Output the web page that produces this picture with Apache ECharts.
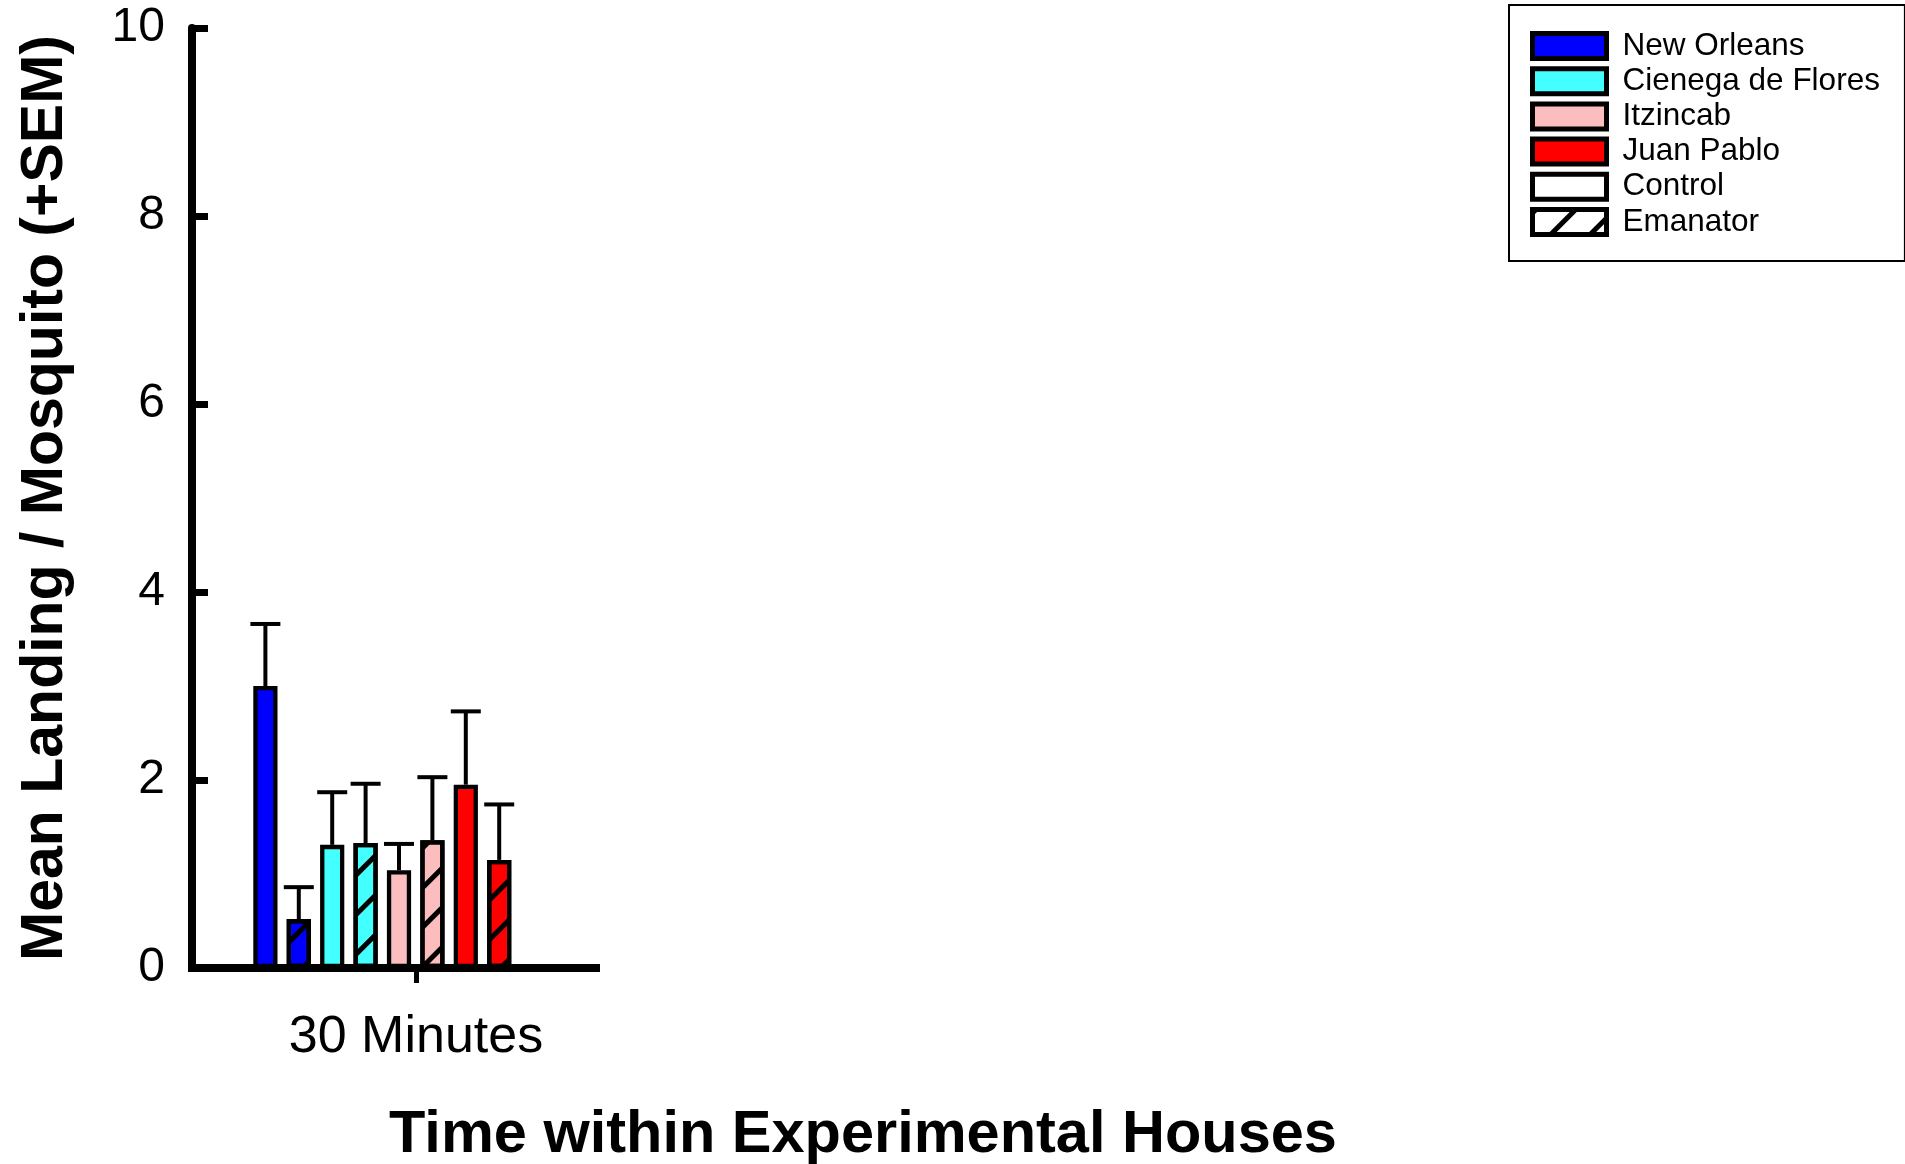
<!DOCTYPE html>
<html>
<head>
<meta charset="utf-8">
<script src="https://cdn.jsdelivr.net/npm/echarts@6/dist/echarts.min.js"></script>
<style>
  html, body { margin: 0; padding: 0; background: #ffffff; }
  #chart { width: 1905px; height: 1164px; }
</style>
</head>
<body>
<div id="chart"></div>
<script>
// Landing counts per mosquito strain, 30 minutes inside the experimental houses
const timeCategories = ['30 Minutes'];
const sites = ['New Orleans', 'Cienega de Flores', 'Itzincab', 'Juan Pablo'];
const treatments = ['Control', 'Emanator'];
const siteColors = ['#0000ff', '#44ffff', '#fbbdbd', '#ff0000'];
const meanControl = [3.00, 1.31, 1.04, 1.95];
const meanEmanator = [0.52, 1.33, 1.36, 1.15];
const semControl = [0.66, 0.56, 0.28, 0.78];
const semEmanator = [0.34, 0.63, 0.67, 0.59];
const yTicks = [0, 2, 4, 6, 8, 10];

const FONT = '"Liberation Sans", Arial, sans-serif';
const hatch = {
  symbol: 'rect',
  symbolSize: 1,
  color: '#000000',
  dashArrayX: [1, 0],
  dashArrayY: [5, 23],
  rotation: -Math.PI / 4
};

// one slot per site/treatment pair: control then emanator for each site
const slots = [];
sites.forEach(function (s, i) {
  slots.push({ site: i, treat: 0, mean: meanControl[i], sem: semControl[i], name: s + ' ' + treatments[0] });
  slots.push({ site: i, treat: 1, mean: meanEmanator[i], sem: semEmanator[i], name: s + ' ' + treatments[1] });
});
const slotNames = slots.map(function (d) { return d.name; });

const siteSeries = sites.map(function (s, i) {
  return {
    name: s,
    type: 'bar',
    xAxisIndex: 1,
    yAxisIndex: 1,
    barWidth: 24.2,
    barGap: '-100%',
    itemStyle: { color: siteColors[i], borderColor: '#000', borderWidth: 4.3 },
    data: slots.map(function (d) {
      if (d.site !== i) return '-';
      const item = { value: d.mean };
      if (d.treat === 1) item.itemStyle = { decal: hatch };
      return item;
    }),
    z: 2
  };
});

const errorSeries = {
  type: 'custom',
  xAxisIndex: 1,
  yAxisIndex: 1,
  z: 3,
  data: slots.map(function (d, k) { return [k, d.mean, d.mean + d.sem]; }),
  renderItem: function (params, api) {
    const base = api.coord([api.value(0), api.value(1)]);
    const top = api.coord([api.value(0), api.value(2)]);
    const half = 15;
    const st = { stroke: '#000', lineWidth: 4 };
    return {
      type: 'group',
      children: [
        { type: 'line', shape: { x1: base[0], y1: base[1], x2: top[0], y2: top[1] }, style: st },
        { type: 'line', shape: { x1: top[0] - half, y1: top[1], x2: top[0] + half, y2: top[1] }, style: st }
      ]
    };
  }
};

// empty series that only provide the treatment swatches in the legend
const treatmentSeries = treatments.map(function (t, k) {
  return {
    name: t,
    type: 'bar',
    xAxisIndex: 2,
    yAxisIndex: 2,
    itemStyle: k === 1
      ? { color: '#ffffff', borderColor: '#000', borderWidth: 4.3, decal: hatch }
      : { color: '#ffffff', borderColor: '#000', borderWidth: 4.3 },
    data: []
  };
});

const chart = echarts.init(document.getElementById('chart'), null, { renderer: 'canvas' });
chart.setOption({
  backgroundColor: '#ffffff',
  animation: false,
  aria: { enabled: false },
  textStyle: { fontFamily: FONT },
  grid: [
    { left: 192, width: 404, top: 28, bottom: 196 },
    { left: 248.7, width: 267.2, top: 28, bottom: 196 },
    { left: 192, width: 448, top: 28, bottom: 196 }
  ],
  xAxis: [
    {
      gridIndex: 0, type: 'category', data: timeCategories,
      axisLine: { lineStyle: { color: '#000', width: 8, cap: 'square' } },
      axisTick: { show: false }, axisLabel: { show: false }, splitLine: { show: false }
    },
    {
      gridIndex: 1, type: 'category', data: slotNames, show: false
    },
    {
      gridIndex: 2, type: 'category', data: timeCategories,
      axisLine: { show: false },
      axisTick: { show: true, alignWithLabel: true, length: 15, lineStyle: { color: '#000', width: 5 } },
      axisLabel: { show: true, color: '#000', fontSize: 52, fontFamily: FONT, margin: 44 },
      splitLine: { show: false }
    }
  ],
  yAxis: [
    {
      gridIndex: 0, type: 'value', min: 0, max: 10, interval: 2,
      name: 'Mean Landing / Mosquito (+SEM)',
      nameLocation: 'middle', nameGap: 117,
      nameTextStyle: { fontSize: 59, fontWeight: 'bold', color: '#000', fontFamily: FONT },
      axisLine: { show: true, lineStyle: { color: '#000', width: 8 } },
      axisTick: { show: true, inside: true, length: 16, lineStyle: { color: '#000', width: 7 } },
      axisLabel: {
        color: '#000', fontSize: 48, fontFamily: FONT, margin: 27,
        customValues: yTicks
      },
      splitLine: { show: false }
    },
    { gridIndex: 1, type: 'value', min: 0, max: 10, show: false },
    { gridIndex: 2, type: 'value', min: 0, max: 10, show: false }
  ],
  legend: {
    orient: 'vertical',
    left: 1509,
    top: 5,
    padding: [25, 25, 23, 21],
    itemWidth: 74,
    itemHeight: 25,
    itemGap: 3.2,
    icon: 'rect',
    borderColor: '#000',
    borderWidth: 2,
    backgroundColor: '#ffffff',
    selectedMode: false,
    itemStyle: { borderWidth: 5 },
    textStyle: { fontSize: 31.5, color: '#000', fontFamily: FONT, lineHeight: 25, padding: [0, 0, 0, 11] },
    data: sites.concat(treatments)
  },
  graphic: [
    {
      type: 'text',
      x: 863,
      y: 1136,
      style: {
        text: 'Time within Experimental Houses',
        fontSize: 59.5, fontWeight: 'bold', fontFamily: FONT,
        fill: '#000', align: 'center', verticalAlign: 'middle'
      }
    }
  ],
  series: siteSeries.concat([errorSeries]).concat(treatmentSeries)
});
</script>
</body>
</html>
